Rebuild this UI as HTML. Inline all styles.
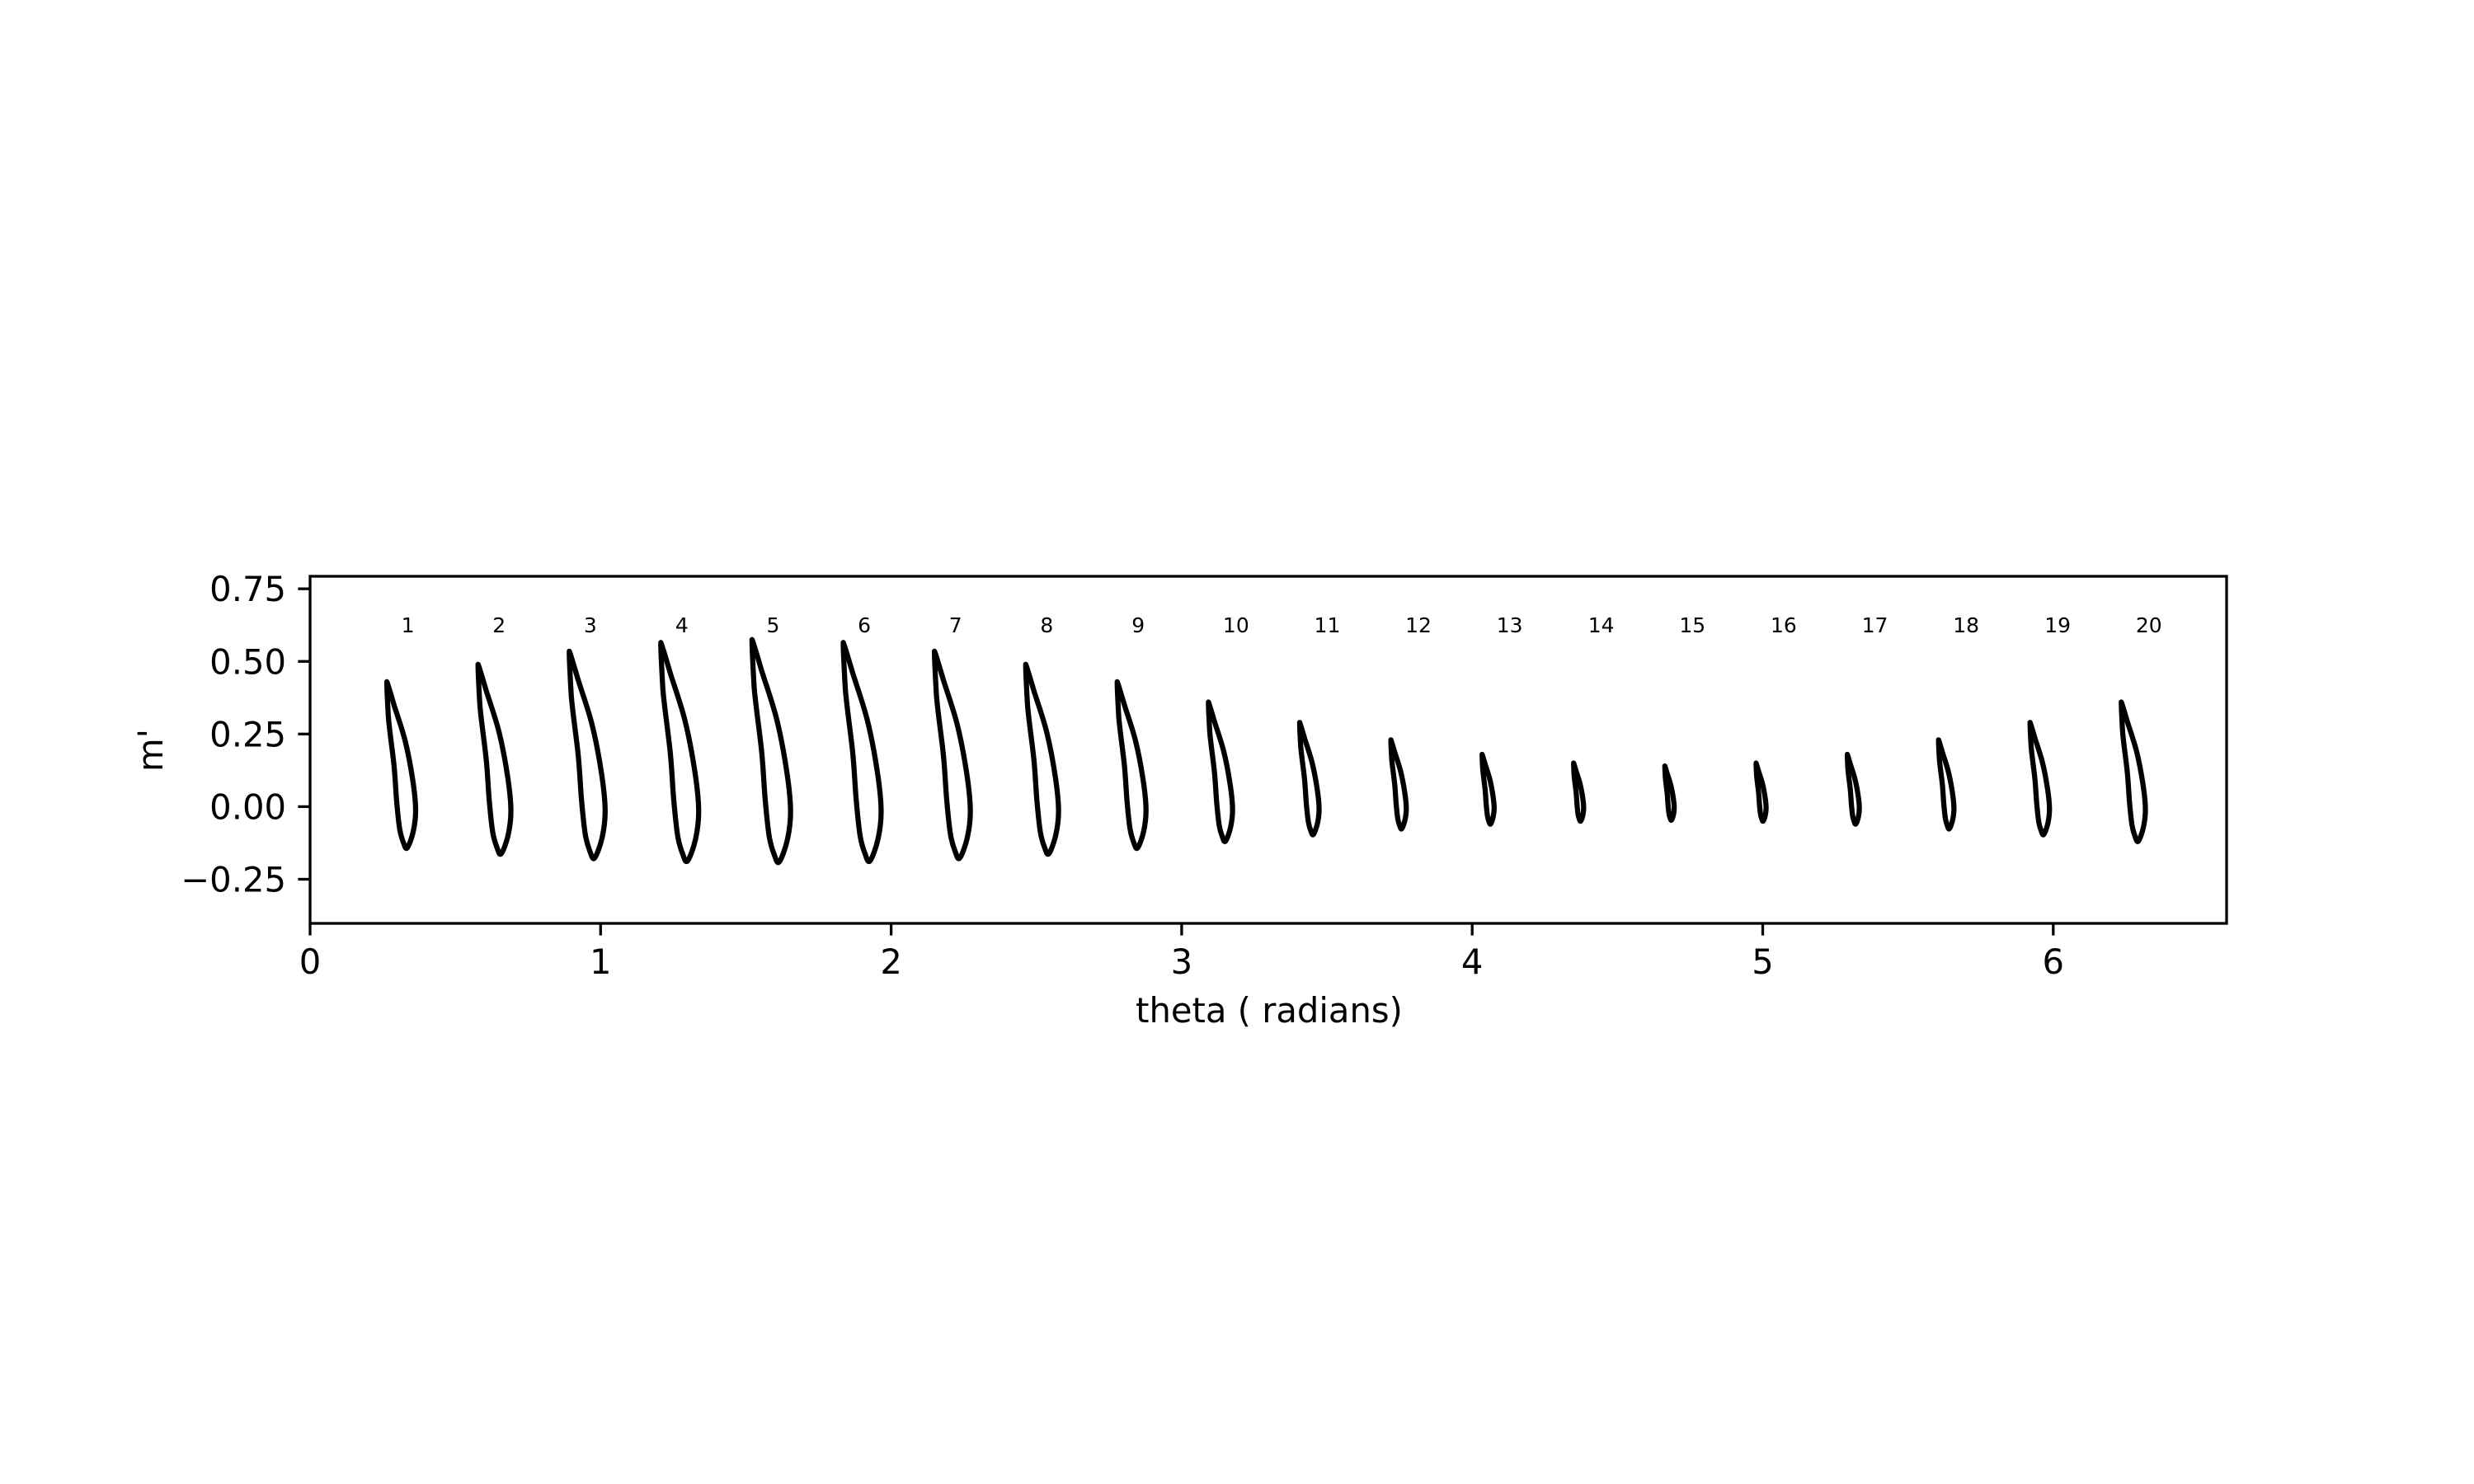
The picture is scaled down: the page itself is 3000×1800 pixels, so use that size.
<!DOCTYPE html>
<html><head><meta charset="utf-8"><style>
html,body{margin:0;padding:0;background:#fff;}
svg{display:block;font-family:"DejaVu Sans","Liberation Sans",sans-serif;}
</style></head><body>
<svg id="chart" width="3000" height="1800" viewBox="0 0 3000 1800" xmlns="http://www.w3.org/2000/svg">
<rect x="0" y="0" width="3000" height="1800" fill="#fff"/>
<g id="blades"></g>
<g id="labels"></g>
<rect x="376" y="699" width="2324" height="421" fill="none" stroke="#000" stroke-width="3.3"/>
<g id="xticks"></g>
<g id="yticks"></g>
<text x="1539" y="1240" font-size="41.7" text-anchor="middle">theta ( radians)</text>
<text x="0" y="0" font-size="41.7" text-anchor="middle" transform="translate(197,910) rotate(-90)">m'</text>
</svg>
<script>
const bladeIds = [1,2,3,4,5,6,7,8,9,10,11,12,13,14,15,16,17,18,19,20];
const bladeTheta = [0.264,0.578,0.892,1.207,1.521,1.835,2.149,2.463,2.778,3.092,3.406,3.720,4.034,4.349,4.663,4.977,5.291,5.605,5.920,6.234];
const bladeTop = [0.43,0.49,0.535,0.565,0.575,0.565,0.535,0.49,0.43,0.36,0.29,0.23,0.18,0.15,0.14,0.15,0.18,0.23,0.29,0.36];
const xTicks = [0,1,2,3,4,5,6];
const yTicks = [-0.25,0,0.25,0.5,0.75];
const yTickLabels = ["\u22120.25","0.00","0.25","0.50","0.75"];
// normalized blade profile (units of top m')
const suctionX = [0,0.058,0.147,0.207,0.231,0.212,0.163];
const suctionY = [0,-0.186,-0.473,-0.781,-1.023,-1.198,-1.331];
const pressureX = [0.133,0.103,0.079,0.058,0.014];
const pressureY = [-1.287,-1.177,-0.956,-0.671,-0.296];

const X0=376, SX=352.3, Y0=978.4, SY=352.3;
const xs = v => X0 + v*SX;
const ys = v => Y0 - v*SY;
const NS="http://www.w3.org/2000/svg";
function mk(tag, attrs){const e=document.createElementNS(NS,tag);for(const k in attrs)e.setAttribute(k,attrs[k]);return e;}

function smoothClosed(pts){
  const n=pts.length;let d=`M${pts[0][0].toFixed(2)},${pts[0][1].toFixed(2)}`;
  for(let i=0;i<n;i++){
    const p0=pts[(i-1+n)%n],p1=pts[i],p2=pts[(i+1)%n],p3=pts[(i+2)%n];
    const t=(i===n-1||i===0)?0.05:1/6;
    const c1=[p1[0]+(p2[0]-p0[0])*t,p1[1]+(p2[1]-p0[1])*t];
    const c2=[p2[0]-(p3[0]-p1[0])*t,p2[1]-(p3[1]-p1[1])*t];
    d+=` C${c1[0].toFixed(2)},${c1[1].toFixed(2)} ${c2[0].toFixed(2)},${c2[1].toFixed(2)} ${p2[0].toFixed(2)},${p2[1].toFixed(2)}`;
  }
  return d+" Z";
}

const gB=document.getElementById('blades'), gL=document.getElementById('labels');
for(let i=0;i<bladeIds.length;i++){
  const th=bladeTheta[i], T=bladeTop[i];
  const pts=[];
  for(let k=0;k<suctionX.length;k++) pts.push([xs(th+suctionX[k]*T), ys(T+suctionY[k]*T)]);
  for(let k=0;k<pressureX.length;k++) pts.push([xs(th+pressureX[k]*T), ys(T+pressureY[k]*T)]);
  const p=mk('path',{d:smoothClosed(pts),fill:'none',stroke:'#000','stroke-width':6.25,'stroke-linejoin':'round'});
  
  
  gB.appendChild(p);
  const t=mk('text',{x:xs(th+0.05),y:ys(0.6),'font-size':25});
  t.textContent=bladeIds[i];
  
  
  gL.appendChild(t);
}
const gX=document.getElementById('xticks');
xTicks.forEach(v=>{
  const l=mk('line',{x1:xs(v),x2:xs(v),y1:1120,y2:1134.6,stroke:'#000','stroke-width':3.3});
  
  
  gX.appendChild(l);
  const t=mk('text',{x:xs(v),y:1181,'font-size':41.7,'text-anchor':'middle'});
  t.textContent=v;
  
  
  gX.appendChild(t);
});
const gY=document.getElementById('yticks');
yTicks.forEach((v,i)=>{
  const l=mk('line',{x1:361.4,x2:376,y1:ys(v),y2:ys(v),stroke:'#000','stroke-width':3.3});
  
  
  gY.appendChild(l);
  const t=mk('text',{x:347,y:ys(v)+15,'font-size':41.7,'text-anchor':'end'});
  t.textContent=yTickLabels[i];
  
  
  gY.appendChild(t);
});
</script>
</body></html>
